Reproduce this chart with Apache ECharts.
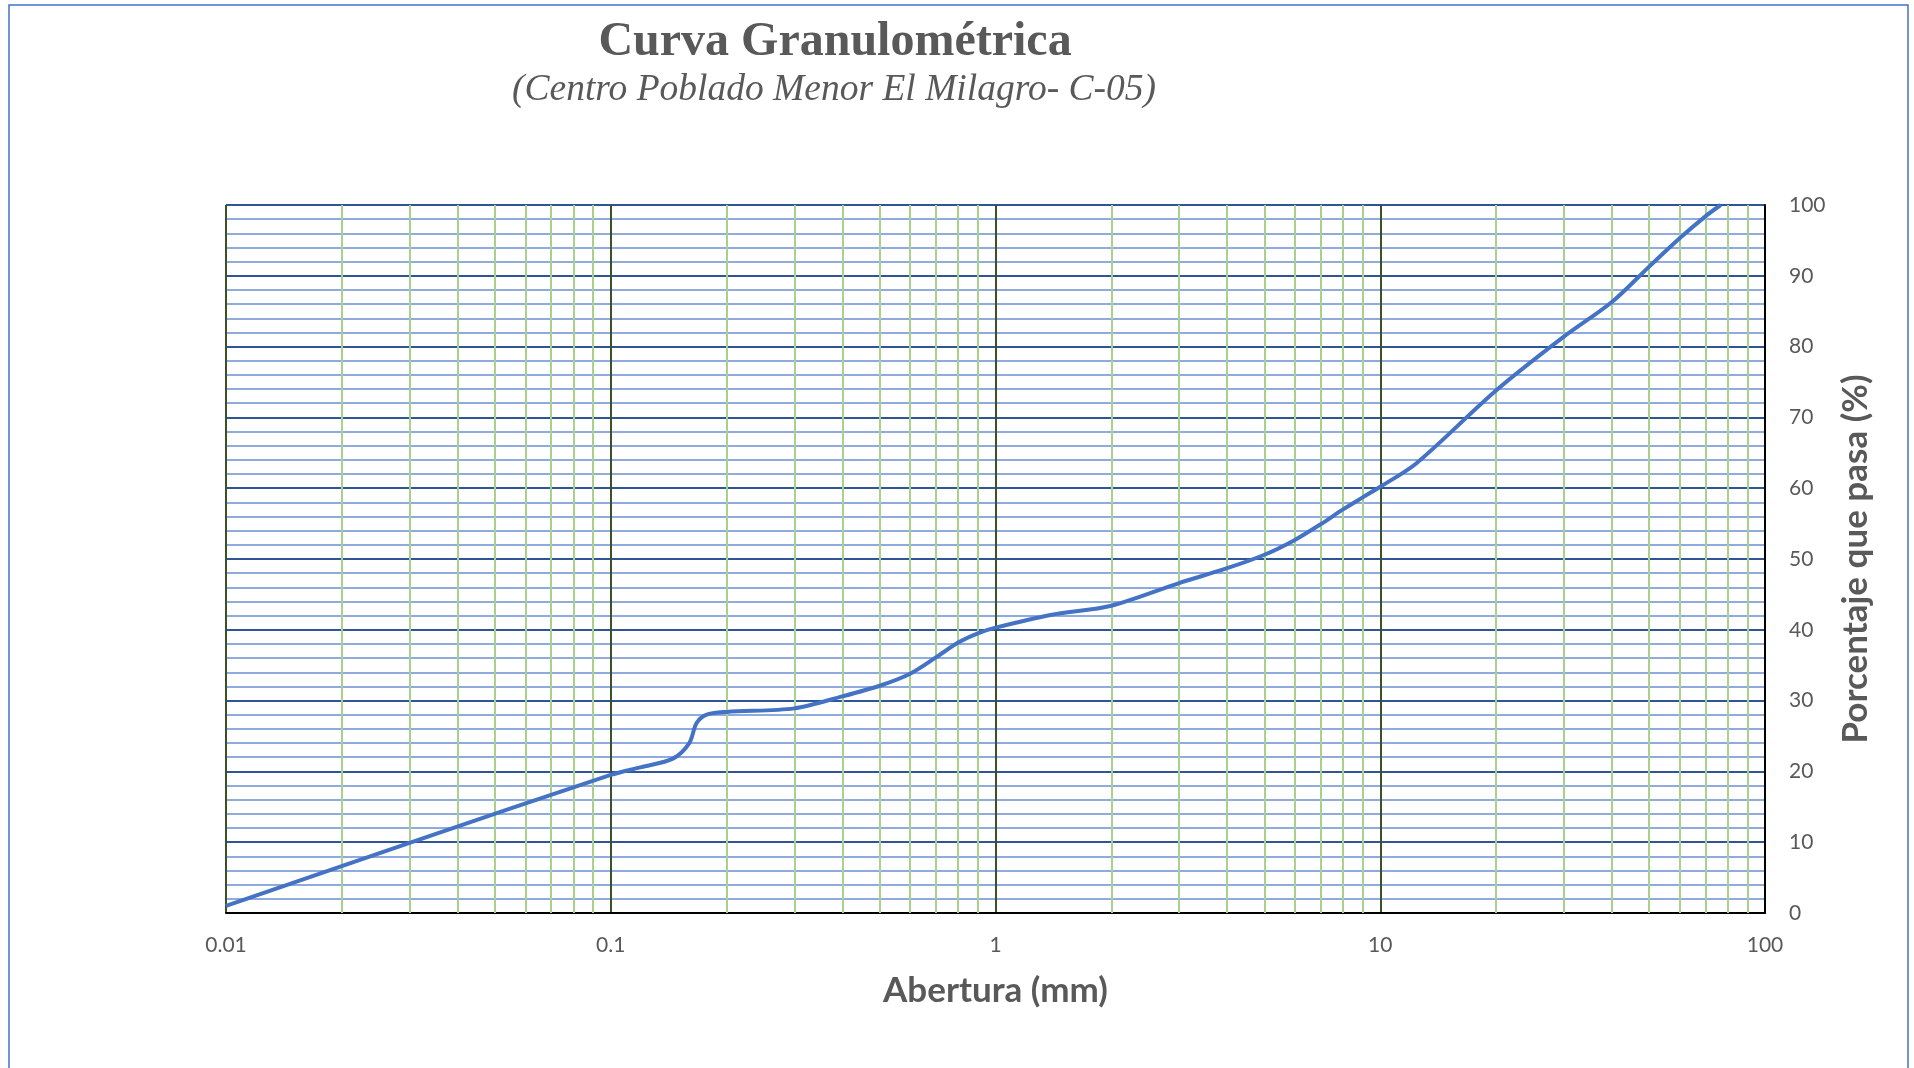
<!DOCTYPE html>
<html>
<head>
<meta charset="utf-8">
<script src="https://cdn.jsdelivr.net/npm/echarts@6/dist/echarts.min.js"></script>
<style>html,body{margin:0;padding:0;background:#fff;}#chart{width:1914px;height:1068px;}</style>
</head>
<body>
<div id="chart"></div>
<script>
// Data (abertura mm, % que pasa)
const aberturas = [0.01, 0.03, 0.1, 0.12, 0.145, 0.16, 0.167, 0.177, 0.2, 0.3, 0.4, 0.5, 0.6, 0.7, 0.8, 0.9, 1.0, 1.39, 2.0, 3.0, 4.0, 5.0, 6.0, 7.0, 8.0, 9.0, 10, 12.4, 20, 30, 40, 50, 60, 70, 76.7];
const porcentajes = [1.0, 9.9, 19.5, 20.6, 21.8, 24.0, 26.8, 28.0, 28.4, 28.9, 30.6, 32.1, 33.8, 36.1, 38.2, 39.5, 40.3, 42.1, 43.4, 46.6, 48.7, 50.6, 52.7, 54.9, 57.0, 58.7, 60.2, 63.5, 73.8, 81.4, 86.3, 91.3, 95.3, 98.4, 100];
const minorX = [0.02,0.03,0.04,0.05,0.06,0.07,0.08,0.09,0.2,0.3,0.4,0.5,0.6,0.7,0.8,0.9,2,3,4,5,6,7,8,9,20,30,40,50,60,70,80,90];
const xTickLabels = ['0.01','0.1','1','10','100'];
const yTicks = [0,10,20,30,40,50,60,70,80,90,100];

const seriesData = aberturas.map((a, i) => [a, porcentajes[i]]);
const chart = echarts.init(document.getElementById('chart'), null, {renderer: 'canvas'});
const gray = '#595959';
chart.setOption({
  animation: false,
  backgroundColor: '#fff',
  title: [
    {text: 'Curva Granulométrica', left: 830, top: 14, textAlign: 'center',
     textStyle: {fontFamily: 'Liberation Serif', fontWeight: 'bold', fontSize: 48, color: gray}},
    {text: '(Centro Poblado Menor El Milagro- C-05)', left: 829, top: 66, textAlign: 'center',
     textStyle: {fontFamily: 'Liberation Serif', fontStyle: 'italic', fontWeight: 'normal', fontSize: 37.5, color: gray}}
  ],
  graphic: [{type: 'rect', shape: {x: 9, y: 5, width: 1899, height: 1100}, style: {fill: 'none', stroke: '#4472C4', lineWidth: 1.5}, silent: true}],
  grid: {left: 226, right: 149, top: 205, bottom: 155, containLabel: false},
  xAxis: {
    type: 'log', logBase: 10, min: 0.01, max: 100,
    name: 'Abertura (mm)', nameLocation: 'middle', nameGap: 60,
    nameTextStyle: {fontFamily: 'Lato', fontWeight: 'bold', fontSize: 35, color: gray},
    axisLine: {show: true, onZero: false, lineStyle: {color: '#000', width: 2}},
    axisTick: {show: false},
    axisLabel: {margin: 22, fontFamily: 'Lato', fontSize: 21, color: gray,
      formatter: v => { const s = String(+(+v).toPrecision(6)); return xTickLabels.includes(s) ? s : ''; }},
    splitLine: {show: true, lineStyle: {color: '#3B5323', width: 2}}
  },
  yAxis: {
    type: 'value', position: 'right', min: 0, max: 100, interval: 10,
    name: 'Porcentaje que pasa (%)', nameLocation: 'middle', nameGap: 73,
    nameTextStyle: {fontFamily: 'Lato', fontWeight: 'bold', fontSize: 35, color: gray},
    axisLine: {show: true, lineStyle: {color: '#000', width: 2}},
    axisTick: {show: false},
    axisLabel: {margin: 24, fontFamily: 'Lato', fontSize: 21, color: gray,
      formatter: v => yTicks.includes(v) ? String(v) : ''},
    splitLine: {show: true, lineStyle: {color: '#2F5597', width: 2}},
    minorTick: {show: false, splitNumber: 5},
    minorSplitLine: {show: true, lineStyle: {color: '#8FAADC', width: 2}}
  },
  series: [
    {type: 'line', data: [], z: 1, silent: true,
     markLine: {silent: true, symbol: 'none', z: 1, animation: false, label: {show: false},
       lineStyle: {color: '#A9D18E', width: 2, type: 'solid'},
       data: minorX.map(v => ({xAxis: v}))}},
    {type: 'line', data: seriesData, z: 3, smooth: 0.3, symbol: 'none',
     lineStyle: {color: '#4472C4', width: 4}}
  ]
});
</script>
</body>
</html>
